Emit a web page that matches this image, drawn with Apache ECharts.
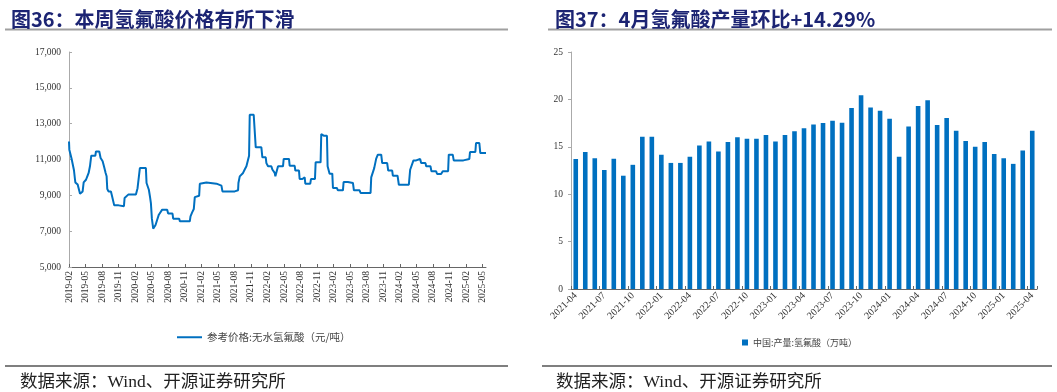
<!DOCTYPE html>
<html><head><meta charset="utf-8">
<script src="https://cdn.jsdelivr.net/npm/echarts@6/dist/echarts.min.js"></script>
<style>html,body{margin:0;padding:0;background:#fff;}#c{width:1057px;height:392px;}</style>
</head><body><div id="c"></div>
<script>
// ---- Chart 36: weekly anhydrous HF price (month offset from 2019-02, CNY/t) ----
const priceTickLabels = ['2019-02','2019-05','2019-08','2019-11','2020-02','2020-05','2020-08','2020-11',
 '2021-02','2021-05','2021-08','2021-11','2022-02','2022-05','2022-08','2022-11','2023-02','2023-05',
 '2023-08','2023-11','2024-02','2024-05','2024-08','2024-11','2025-02','2025-05'];
const priceSeries = [
 [0,12000],[0.06,11550],[0.3,11550],[0.48,11030],[0.78,11030],[0.9,10400],[1.09,9870],[1.15,9720],[1.5,9720],
 [1.57,9600],[1.87,9600],[2.0,9090],[2.35,9090],[2.47,9220],[2.66,9720],[3.08,9870],[3.32,10060],[3.56,10250],
 [3.8,10620],[4.04,11210],[4.77,11210],[4.89,11450],[5.49,11450],[5.73,11080],[6.1,10900],[6.34,10620],
 [6.64,10250],[6.82,10060],[6.94,9350],[7.18,9220],[7.6,9220],[7.79,8980],[8.03,8950],[8.2,8440],[9.0,8440],
 [9.11,8390],[9.96,8390],[10.08,8850],[10.44,8900],[10.74,9040],[12.13,9040],[12.43,9400],[12.73,9490],
 [12.85,10520],[13.94,10520],[14.06,9690],[14.3,9650],[14.48,9310],[14.67,8950],[14.85,8570],[15.03,7700],
 [15.15,7640],[15.27,7140],[15.51,7180],[15.69,7340],[15.99,7640],[16.29,7920],[16.48,8010],[16.9,8200],
 [17.8,8200],[17.98,7980],[18.77,7980],[18.89,7700],[19.98,7700],[20.1,7550],[21.9,7550],[22.03,7830],
 [22.33,8050],[22.63,8240],[22.81,8900],[23.11,8980],[23.6,8980],[23.72,9650],[24.02,9720],[24.92,9720],
 [25.05,9650],[26.74,9650],[26.86,9540],[27.64,9540],[27.82,9220],[30.05,9220],[30.66,9280],[30.72,9690],
 [30.96,10060],[31.56,10250],[31.86,10440],[32.17,10620],[32.65,11210],[32.77,13500],[33.49,13500],
 [33.68,13440],[33.86,11680],[34.88,11680],[35.06,11120],[35.67,11120],[35.79,10800],[36.09,10620],
 [36.69,10620],[36.87,10440],[37.3,10250],[37.42,10060],[37.72,10060],[37.9,10620],[38.8,10620],
 [38.93,11030],[39.89,11030],[40.01,10650],[40.92,10650],[41.04,10380],[41.7,10380],[41.82,9910],
 [42.31,9910],[42.43,10000],[42.73,10000],[42.85,9650],[43.75,9650],[43.87,9910],[44.6,9910],
 [44.72,10840],[45.62,10840],[45.74,12420],[46.05,12420],[46.17,12330],[46.77,12330],[46.89,10620],
 [47.13,10620],[47.25,10210],[47.74,10210],[47.86,9410],[48.57,9410],[48.76,9280],[49.67,9280],
 [49.79,9740],[50.57,9740],[50.69,9690],[51.48,9690],[51.66,9280],[52.69,9280],[52.87,9130],[54.68,9130],
 [54.8,10000],[55.16,10000],[55.34,10520],[55.7,11050],[56.0,11270],[56.61,11270],[56.79,10800],
 [57.69,10800],[57.88,10380],[58.6,10380],[58.72,10100],[59.57,10100],[59.81,9590],[61.62,9590],
 [61.86,10430],[62.22,10520],[62.46,10950],[62.95,10950],[63.13,11030],[63.67,11030],[63.85,10800],
 [64.64,10800],[64.76,10620],[65.54,10620],[65.72,10340],[66.57,10340],[66.75,10190],[67.47,10190],
 [67.77,10340],[68.74,10340],[68.86,11270],[69.58,11270],[69.76,10950],[71.51,10950],[71.63,11030],
 [72.59,11030],[72.71,11420],[73.68,11420],[73.8,11920],[74.4,11920],[74.58,11360],[75.61,11360]
];
const priceName = '参考价格:无水氢氟酸（元/吨）';

// ---- Chart 37: monthly HF output in China (10k t) ----
const outputMonths = ['2021-04','2021-05','2021-06','2021-07','2021-08','2021-09','2021-10','2021-11','2021-12',
 '2022-01','2022-02','2022-03','2022-04','2022-05','2022-06','2022-07','2022-08','2022-09','2022-10','2022-11','2022-12',
 '2023-01','2023-02','2023-03','2023-04','2023-05','2023-06','2023-07','2023-08','2023-09','2023-10','2023-11','2023-12',
 '2024-01','2024-02','2024-03','2024-04','2024-05','2024-06','2024-07','2024-08','2024-09','2024-10','2024-11','2024-12',
 '2025-01','2025-02','2025-03','2025-04'];
const outputValues = [13.7,14.45,13.8,12.55,13.75,11.95,13.1,16.05,16.05,
 14.15,13.3,13.3,13.95,15.15,15.55,14.5,15.5,16.0,15.85,15.85,16.25,
 15.55,16.25,16.65,16.95,17.35,17.5,17.75,17.55,19.1,20.45,19.15,18.8,
 17.95,13.95,17.15,19.3,19.9,17.3,18.05,16.7,15.6,15.0,15.5,14.25,
 13.8,13.2,14.6,16.7];
const outputName = '中国:产量:氢氟酸（万吨）';

const serif = '"Liberation Serif","Times New Roman",serif';
const cjk = '"Noto Sans CJK SC","Liberation Serif",sans-serif';
const blue = '#0070C0';
const tickVals = priceTickLabels.map((_, i) => i * 3);

const chart = echarts.init(document.getElementById('c'), null, {renderer: 'canvas'});
chart.setOption({
  animation: false,
  title: [
    {text: '图36：本周氢氟酸价格有所下滑', left: 6, top: 4, textStyle: {fontFamily: cjk, fontSize: 20, fontWeight: 'bold', color: '#1c2473'}},
    {text: '图37：4月氢氟酸产量环比+14.29%', left: 550, top: 4, textStyle: {fontFamily: cjk, fontSize: 20, fontWeight: 'bold', color: '#1c2473'}},
    {text: '数据来源：Wind、开源证券研究所', left: 15, top: 369, textStyle: {fontFamily: serif + ',' + cjk, fontSize: 17.5, fontWeight: 'normal', color: '#222'}},
    {text: '数据来源：Wind、开源证券研究所', left: 551, top: 369, textStyle: {fontFamily: serif + ',' + cjk, fontSize: 17.5, fontWeight: 'normal', color: '#222'}}
  ],
  graphic: [
    {type: 'line', shape: {x1: 5, y1: 29.5, x2: 508, y2: 29.5}, style: {stroke: '#a0a0a0', lineWidth: 2}},
    {type: 'line', shape: {x1: 548, y1: 29.5, x2: 1052, y2: 29.5}, style: {stroke: '#a0a0a0', lineWidth: 2}},
    {type: 'line', shape: {x1: 5, y1: 366, x2: 508, y2: 366}, style: {stroke: '#555', lineWidth: 1.5}},
    {type: 'line', shape: {x1: 542, y1: 366, x2: 1052, y2: 366}, style: {stroke: '#555', lineWidth: 1.5}}
  ],
  legend: [
    {data: [priceName], left: 172, top: 327, icon: 'rect', itemWidth: 25, itemHeight: 2, itemGap: 4,
     textStyle: {fontFamily: cjk, fontSize: 10.5, color: '#444'}},
    {data: [outputName], left: 737, top: 333, icon: 'rect', itemWidth: 6, itemHeight: 6, itemGap: 3,
     textStyle: {fontFamily: cjk, fontSize: 9, color: '#444'}}
  ],
  grid: [
    {left: 69, top: 52, width: 417, height: 215},
    {left: 571, top: 52, width: 466, height: 237}
  ],
  xAxis: [
    {type: 'value', gridIndex: 0, min: 0, max: 75.61, splitLine: {show: false},
     axisLine: {show: true, lineStyle: {color: '#666', width: 1}},
     axisTick: {show: true, inside: true, length: 3, customValues: tickVals, lineStyle: {color: '#666'}},
     axisLabel: {customValues: tickVals, rotate: 90, margin: 4, fontFamily: serif, fontSize: 9.5, color: '#333',
       formatter: v => priceTickLabels[Math.round(v / 3)] || ''}},
    {type: 'category', gridIndex: 1, data: outputMonths, boundaryGap: true,
     axisLine: {show: true, lineStyle: {color: '#666', width: 1}},
     axisTick: {show: true, inside: true, length: 3, interval: 2, lineStyle: {color: '#666'}},
     axisLabel: {interval: 2, rotate: 45, margin: 5, fontFamily: serif, fontSize: 10, color: '#333'}}
  ],
  yAxis: [
    {type: 'value', gridIndex: 0, min: 5000, max: 17000, interval: 2000, splitLine: {show: false},
     axisLine: {show: true, lineStyle: {color: '#aaa', width: 1}},
     axisTick: {show: true, inside: true, length: 3, lineStyle: {color: '#aaa'}},
     axisLabel: {fontFamily: serif, fontSize: 9.5, color: '#333', margin: 8,
       formatter: v => v.toLocaleString('en-US')}},
    {type: 'value', gridIndex: 1, min: 0, max: 25, interval: 5, splitLine: {show: false},
     axisLine: {show: true, lineStyle: {color: '#aaa', width: 1}},
     axisTick: {show: true, length: 3, lineStyle: {color: '#aaa'}},
     axisLabel: {fontFamily: serif, fontSize: 9.5, color: '#333', margin: 8}}
  ],
  series: [
    {name: priceName, type: 'line', xAxisIndex: 0, yAxisIndex: 0, data: priceSeries, showSymbol: false,
     symbol: 'none', lineStyle: {color: blue, width: 2}, itemStyle: {color: blue}},
    {name: outputName, type: 'bar', xAxisIndex: 1, yAxisIndex: 1, data: outputValues, barWidth: 4.6,
     itemStyle: {color: blue}}
  ]
});
</script></body></html>
